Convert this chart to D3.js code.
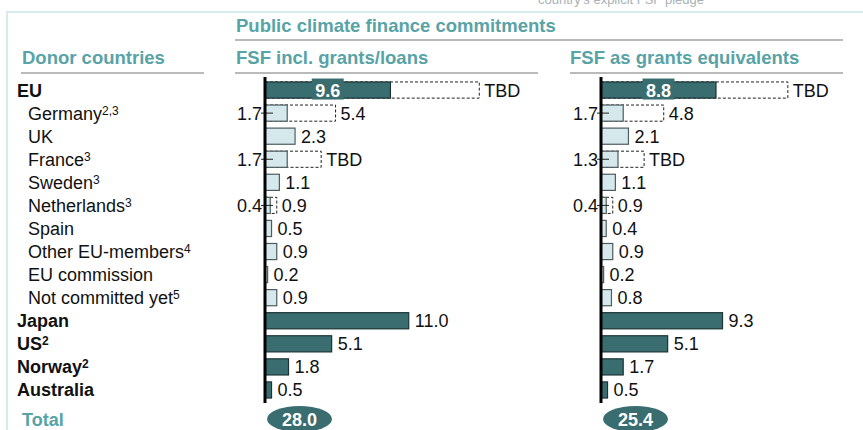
<!DOCTYPE html>
<html>
<head>
<meta charset="utf-8">
<script src="https://cdn.jsdelivr.net/npm/d3@7"></script>
<style>
  body { margin: 0; background: #fff; }
  text { font-family: "Liberation Sans", Arial, Helvetica, sans-serif; }
</style>
</head>
<body>
<div id="output"></div>
<script>
const width = 863;
const height = 430;

// data
const countries = ['EU', 'Germany', 'UK', 'France', 'Sweden', 'Netherlands', 'Spain',
    'Other EU-members', 'EU commission', 'Not committed yet', 'Japan', 'US', 'Norway', 'Australia'];
const notes = ['', '2,3', '', '3', '3', '3', '', '4', '', '5', '', '2', '2', ''];
const euMember = [false, true, true, true, true, true, true, true, true, true, false, false, false, false];

const loanValues = [9.6, 1.7, 2.3, 1.7, 1.1, 0.4, 0.5, 0.9, 0.2, 0.9, 11.0, 5.1, 1.8, 0.5];
const loanPledge = [16.4, 5.4, null, 4.3, null, 0.9, null, null, null, null, null, null, null, null];
const loanPledgeLabels = ['TBD', '5.4', null, 'TBD', null, '0.9', null, null, null, null, null, null, null, null];

const grantValues = [8.8, 1.7, 2.1, 1.3, 1.1, 0.4, 0.4, 0.9, 0.2, 0.8, 9.3, 5.1, 1.7, 0.5];
const grantPledge = [14.3, 4.8, null, 3.3, null, 0.9, null, null, null, null, null, null, null, null];
const grantPledgeLabels = ['TBD', '4.8', null, 'TBD', null, '0.9', null, null, null, null, null, null, null, null];

const totals = ['28.0', '25.4'];

const teal = '#58a3a6';
const dark = '#3a6d70';
const light = '#d5e9ec';
const fs = 18;    // body font size
const hfs = 18.5; // header font size

const svg = d3.select('#output').append('svg')
    .attr('width', width)
    .attr('height', height);

// faint frame
svg.append('path')
    .attr('d', 'M7,' + height + 'V12H' + width)
    .attr('fill', 'none')
    .attr('stroke', '#d6ebeb')
    .attr('stroke-width', 2);

// cut-off legend text at the very top
svg.append('text')
    .attr('x', 538).attr('y', 4)
    .attr('font-size', 13)
    .attr('fill', '#a7b1b6')
    .text('country\u2019s explicit FSF pledge');

// headers
function header(x, y, txt, x1, x2, ly) {
    svg.append('text')
        .attr('x', x).attr('y', y)
        .attr('font-size', hfs)
        .attr('font-weight', 'bold')
        .attr('fill', teal)
        .text(txt);
    svg.append('line')
        .attr('x1', x1).attr('x2', x2)
        .attr('y1', ly).attr('y2', ly)
        .attr('stroke', '#a3a3a3')
        .attr('stroke-width', 1.5);
}
header(236, 32, 'Public climate finance commitments', 235, 843, 40);
header(22, 64, 'Donor countries', 21, 204, 73);
header(236, 64, 'FSF incl. grants/loans', 235, 538, 73);
header(570, 64, 'FSF as grants equivalents', 570, 843, 73);

const y = d3.scaleBand()
    .domain(countries)
    .range([78.5, 401.5])
    .paddingInner(0.3)
    .paddingOuter(0.15);
const cy = d => y(d) + y.bandwidth() / 2;

// row labels
const rowLabels = svg.append('g').selectAll('text')
    .data(countries)
    .enter().append('text')
    .attr('x', (d, i) => euMember[i] ? 28 : 17)
    .attr('y', d => cy(d) + 6.5)
    .attr('font-size', fs)
    .attr('font-weight', (d, i) => euMember[i] ? 'normal' : 'bold')
    .attr('fill', '#111');
rowLabels.append('tspan').text(d => d);
rowLabels.append('tspan')
    .attr('font-size', 12)
    .attr('dy', -5)
    .text((d, i) => notes[i]);

svg.append('text')
    .attr('x', 22).attr('y', 426)
    .attr('font-size', fs)
    .attr('font-weight', 'bold')
    .attr('fill', teal)
    .text('Total');

function drawPanel(x0, values, pledge, pledgeLabels, total) {
    const x = d3.scaleLinear().domain([0, 12]).range([x0, x0 + 156.8]);
    const g = svg.append('g');
    const rows = countries.map((c, i) => ({
        name: c, value: values[i], pledge: pledge[i], pledgeLabel: pledgeLabels[i], member: euMember[i], i: i
    }));

    // dashed pledge boxes
    g.selectAll('rect.pledge')
        .data(rows.filter(d => d.pledge !== null))
        .enter().append('rect')
        .attr('class', 'pledge')
        .attr('x', x(0))
        .attr('y', d => y(d.name))
        .attr('width', d => x(d.pledge) - x(0))
        .attr('height', y.bandwidth())
        .attr('fill', '#fff')
        .attr('stroke', '#222')
        .attr('stroke-width', 1)
        .attr('stroke-dasharray', '3,2');

    // solid bars
    g.selectAll('rect.bar')
        .data(rows)
        .enter().append('rect')
        .attr('class', 'bar')
        .attr('x', x(0))
        .attr('y', d => y(d.name))
        .attr('width', d => x(d.value) - x(0))
        .attr('height', y.bandwidth())
        .attr('fill', d => d.member ? light : dark)
        .attr('stroke', d => d.member ? '#4d5c5e' : '#1c3436')
        .attr('stroke-width', 1.2);

    // labels at bar end (rows without a pledge box)
    g.selectAll('text.val')
        .data(rows.filter(d => d.pledge === null))
        .enter().append('text')
        .attr('class', 'val')
        .attr('x', d => x(d.value) + 6)
        .attr('y', d => cy(d.name) + 6.5)
        .attr('font-size', fs)
        .attr('fill', '#111')
        .text(d => d.value.toFixed(1));

    // pledge labels after dashed box
    g.selectAll('text.pl')
        .data(rows.filter(d => d.pledge !== null))
        .enter().append('text')
        .attr('class', 'pl')
        .attr('x', d => x(d.pledge) + 5)
        .attr('y', d => cy(d.name) + 6.5)
        .attr('font-size', fs)
        .attr('fill', '#111')
        .text(d => d.pledgeLabel);

    // values of members with a pledge: left of the axis with a leader
    const left = rows.filter(d => d.pledge !== null && d.member);
    g.selectAll('line.lead')
        .data(left)
        .enter().append('line')
        .attr('class', 'lead')
        .attr('x1', x(0) - 4)
        .attr('x2', x(0) + 8)
        .attr('y1', d => cy(d.name))
        .attr('y2', d => cy(d.name))
        .attr('stroke', '#222')
        .attr('stroke-width', 1);
    g.selectAll('text.left')
        .data(left)
        .enter().append('text')
        .attr('class', 'left')
        .attr('x', x(0) - 3)
        .attr('y', d => cy(d.name) + 6.5)
        .attr('text-anchor', 'end')
        .attr('font-size', fs)
        .attr('fill', '#111')
        .text(d => d.value.toFixed(1));

    // EU value inside its bar
    const eu = rows.filter(d => !d.member && d.pledge !== null);
    g.selectAll('rect.inbox')
        .data(eu)
        .enter().append('rect')
        .attr('class', 'inbox')
        .attr('x', d => (x(0) + x(d.value)) / 2 - 16)
        .attr('y', d => cy(d.name) - 11.5)
        .attr('width', 32)
        .attr('height', 21)
        .attr('fill', dark);
    g.selectAll('text.in')
        .data(eu)
        .enter().append('text')
        .attr('class', 'in')
        .attr('x', d => (x(0) + x(d.value)) / 2)
        .attr('y', d => cy(d.name) + 6.5)
        .attr('text-anchor', 'middle')
        .attr('font-size', fs)
        .attr('font-weight', 'bold')
        .attr('fill', '#fff')
        .text(d => d.value.toFixed(1));

    // axis line
    g.append('line')
        .attr('x1', x(0)).attr('x2', x(0))
        .attr('y1', 77).attr('y2', 403)
        .attr('stroke', '#000')
        .attr('stroke-width', 3);

    // total
    g.append('ellipse')
        .attr('cx', x(0) + 34.5)
        .attr('cy', 419)
        .attr('rx', 32.5)
        .attr('ry', 13)
        .attr('fill', dark);
    g.append('text')
        .attr('x', x(0) + 34.5)
        .attr('y', 425.5)
        .attr('text-anchor', 'middle')
        .attr('font-size', fs)
        .attr('font-weight', 'bold')
        .attr('fill', '#fff')
        .text(total);
}

drawPanel(265, loanValues, loanPledge, loanPledgeLabels, totals[0]);
drawPanel(601, grantValues, grantPledge, grantPledgeLabels, totals[1]);
</script>
</body>
</html>
